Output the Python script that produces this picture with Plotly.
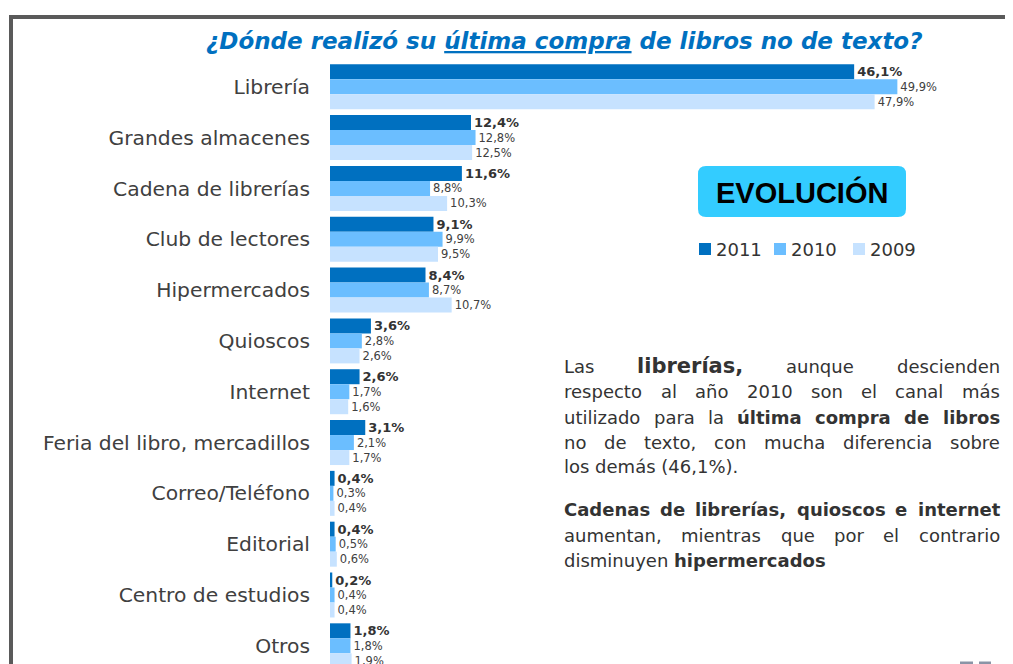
import plotly.graph_objects as go

# ---------------- data ----------------
categories = [
    "Librería", "Grandes almacenes", "Cadena de librerías", "Club de lectores",
    "Hipermercados", "Quioscos", "Internet", "Feria del libro, mercadillos",
    "Correo/Teléfono", "Editorial", "Centro de estudios", "Otros",
]
years = ["2011", "2010", "2009"]
values_2011 = [46.1, 12.4, 11.6, 9.1, 8.4, 3.6, 2.6, 3.1, 0.4, 0.4, 0.2, 1.8]
values_2010 = [49.9, 12.8, 8.8, 9.9, 8.7, 2.8, 1.7, 2.1, 0.3, 0.5, 0.4, 1.8]
values_2009 = [47.9, 12.5, 10.3, 9.5, 10.7, 2.6, 1.6, 1.7, 0.4, 0.6, 0.4, 1.9]
series = [values_2011, values_2010, values_2009]
colors = ["#0070C0", "#6BBEFF", "#C6E2FF"]

title_text = ("<b><i>¿Dónde realizó su "
              "<span style='text-decoration:underline'>última compra</span>"
              " de libros no de texto?</i></b>")

# paragraph lines: list of (word, bold) ; justified unless marked
para_lines = [
    ([("Las", 0), ("librerías,", 2), ("aunque", 0), ("descienden", 0)], True),
    ([("respecto", 0), ("al", 0), ("año", 0), ("2010", 0), ("son", 0), ("el", 0),
      ("canal", 0), ("más", 0)], True),
    ([("utilizado", 0), ("para", 0), ("la", 0), ("última", 1), ("compra", 1),
      ("de", 1), ("libros", 1)], True),
    ([("no", 0), ("de", 0), ("texto,", 0), ("con", 0), ("mucha", 0),
      ("diferencia", 0), ("sobre", 0)], True),
    ([("los", 0), ("demás", 0), ("(46,1%).", 0)], False),
    ([("Cadenas", 1), ("de", 1), ("librerías,", 1), ("quioscos", 1), ("e", 1),
      ("internet", 1)], True),
    ([("aumentan,", 0), ("mientras", 0), ("que", 0), ("por", 0), ("el", 0),
      ("contrario", 0)], True),
    ([("disminuyen", 0), ("hipermercados", 1)], False),
]
para_y = [366, 392, 417, 442, 467, 510, 535, 560]

# ---------------- geometry helpers (reference pixel -> paper) ----------------
W, H = 1013, 664
OFF = 8  # page body margin
L, T, R, B = 330 - OFF, 60 - OFF, OFF, OFF
PW, PH = W - L - R, H - T - B


def px(x):
    return (x - 330) / PW


def py(y):
    return (664 - y) / PH


fig = go.Figure()
for i, (yr, vals, col) in enumerate(zip(years, series, colors)):
    bold = i == 0
    fig.add_trace(go.Bar(
        y=categories, x=vals, name=yr, orientation="h",
        marker=dict(color=col, line=dict(width=0)),
        texttemplate=("<b>%{x:.1f}%</b>" if bold else "%{x:.1f}%"),
        textposition="outside",
        constraintext="none",
        cliponaxis=False,
        textfont=dict(family="DejaVu Sans", size=13 if bold else 11.5,
                      color="#333333" if bold else "#404040"),
        hoverinfo="skip",
    ))

pitch = 50.82
top_center = 86.8
y_top = -(top_center - 60) / pitch
y_bot = y_top + PH / pitch

fig.update_layout(
    width=W, height=H,
    margin=dict(l=L, r=R, t=T, b=B, pad=0),
    paper_bgcolor="white", plot_bgcolor="white",
    barmode="group", bargap=0.1145, bargroupgap=0,
    separators=",.",
    showlegend=False,
    font=dict(family="DejaVu Sans", color="#404040"),
    xaxis=dict(range=[0, PW / 11.37], visible=False, fixedrange=True),
    yaxis=dict(range=[y_bot, y_top], showgrid=False, showline=False,
               zeroline=False, ticks="", ticklabelstandoff=19,
               tickfont=dict(family="DejaVu Sans", size=20.3, color="#404040")),
)

shapes = []
# frame
shapes.append(dict(type="line", xref="paper", yref="paper",
                   x0=px(11), x1=px(11), y0=py(15), y1=py(675),
                   line=dict(color="#5a5a5a", width=4)))
shapes.append(dict(type="line", xref="paper", yref="paper",
                   x0=px(9), x1=px(1025), y0=py(17), y1=py(17),
                   line=dict(color="#5a5a5a", width=4)))
# EVOLUCIÓN rounded box
x0b, x1b, y0b, y1b, rr = 698, 906, 166, 217, 8
path = (f"M {px(x0b+rr)},{py(y0b)} L {px(x1b-rr)},{py(y0b)} "
        f"Q {px(x1b)},{py(y0b)} {px(x1b)},{py(y0b+rr)} "
        f"L {px(x1b)},{py(y1b-rr)} Q {px(x1b)},{py(y1b)} {px(x1b-rr)},{py(y1b)} "
        f"L {px(x0b+rr)},{py(y1b)} Q {px(x0b)},{py(y1b)} {px(x0b)},{py(y1b-rr)} "
        f"L {px(x0b)},{py(y0b+rr)} Q {px(x0b)},{py(y0b)} {px(x0b+rr)},{py(y0b)} Z")
shapes.append(dict(type="path", xref="paper", yref="paper", path=path,
                   fillcolor="#33CCFF", line=dict(width=0)))
# legend squares
leg_sq = [699, 774, 853]
for xs, col in zip(leg_sq, colors):
    shapes.append(dict(type="rect", xref="paper", yref="paper",
                       x0=px(xs), x1=px(xs + 12), y0=py(255), y1=py(243),
                       fillcolor=col, line=dict(width=0)))
# tiny marks bottom right
for a, b in [(960, 973), (979, 991)]:
    shapes.append(dict(type="rect", xref="paper", yref="paper",
                       x0=px(a), x1=px(b), y0=py(664), y1=py(661.5),
                       fillcolor="#8a94a6", line=dict(width=0)))
fig.update_layout(shapes=shapes)

ann = []


def text(x, y, s, size=18, color="#333333", xanchor="left", family="DejaVu Sans"):
    ann.append(dict(xref="paper", yref="paper", x=px(x), y=py(y), text=s,
                    showarrow=False, xanchor=xanchor, yanchor="middle",
                    font=dict(family=family, size=size, color=color)))


# title
text(564, 41, title_text, size=23, color="#0070C0", xanchor="center")
# EVOLUCIÓN
text(802, 193, "<b>EVOLUCIÓN</b>", size=29, color="#000000", xanchor="center",
     family="Liberation Sans")
# legend texts
for xs, yr in zip(leg_sq, years):
    text(xs + 15, 249, yr, size=18, color="#333333")

# ---- justified paragraph (approximate DejaVu Sans advance widths, em) ----
REG = {' ': .318, 'a': .613, 'b': .635, 'c': .550, 'd': .635, 'e': .615, 'f': .352,
       'g': .635, 'h': .634, 'i': .278, 'j': .278, 'k': .579, 'l': .278, 'm': .974,
       'n': .634, 'ñ': .634, 'o': .612, 'p': .635, 'q': .635, 'r': .411, 's': .521,
       't': .392, 'u': .634, 'v': .592, 'w': .818, 'x': .592, 'y': .592, 'z': .525,
       ',': .318, '.': .318, '(': .390, ')': .390, '%': .950, 'L': .557, 'C': .698}
BLD = {' ': .348, 'a': .675, 'b': .716, 'c': .593, 'd': .716, 'e': .678, 'f': .435,
       'g': .716, 'h': .712, 'i': .343, 'l': .343, 'm': 1.042, 'n': .712, 'o': .687,
       'p': .716, 'q': .716, 'r': .493, 's': .595, 't': .478, 'u': .712, 'v': .652,
       'w': .924, 'x': .645, 'y': .652, 'z': .582, ',': .380, '.': .380, 'C': .734}
ACC = {'á': 'a', 'é': 'e', 'í': 'i', 'ó': 'o', 'ú': 'u'}


def width(word, bold, size):
    tbl = BLD if bold else REG
    w = 0
    for ch in word:
        ch = ACC.get(ch, ch)
        if ch.isdigit():
            w += .696 if bold else .636
        else:
            w += tbl.get(ch, .65 if bold else .6)
    return w * size


LX, RX = 562, 998
for (words, just), y in zip(para_lines, para_y):
    if just:
        sizes = [21 if b == 2 else 18 for _, b in words]
        ws = [width(w, b > 0, s) for (w, b), s in zip(words, sizes)]
        gap = (RX - LX - sum(ws)) / (len(words) - 1)
        x = LX
        for (w, b), s, wd in zip(words, sizes, ws):
            t = f"<b>{w}</b>" if b else w
            text(x, y, t, size=s)
            x += wd + gap
    else:
        s = " ".join(f"<b>{w}</b>" if b else w for w, b in words)
        text(LX, y, s, size=18)

fig.update_layout(annotations=ann)
fig.write_html("out.html")
